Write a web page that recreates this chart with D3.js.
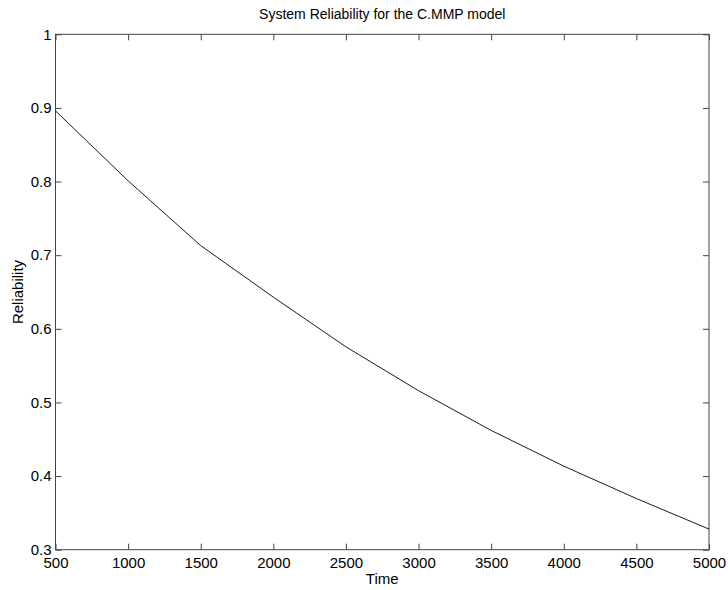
<!DOCTYPE html>
<html><head><meta charset="utf-8">
<script src="https://cdn.jsdelivr.net/npm/d3@7"></script>
<style>body{margin:0;background:#fff}svg{display:block}</style>
</head><body>
<script>
const times = [500,1000,1500,2000,2500,3000,3500,4000,4500,5000];
const reliability = [0.896,0.801,0.713,0.643,0.5755,0.516,0.462,0.4135,0.3695,0.328];
const xTicks = [500,1000,1500,2000,2500,3000,3500,4000,4500,5000];
const yTicks = [0.3,0.4,0.5,0.6,0.7,0.8,0.9,1];

const W=728,H=590;
const m={l:55.5,r:709,t:34.3,b:549.7};
const svg=d3.select("body").append("svg").attr("width",W).attr("height",H)
  .style("font-family","'Liberation Sans', Arial, Helvetica, sans-serif");
const x=d3.scaleLinear().domain([500,5000]).range([m.l,m.r]);
const y=d3.scaleLinear().domain([0.3,1]).range([m.b,m.t]);
const axisColor="#444";
const fmtY=d=>d===1?"1":d3.format(".1f")(d);

function styleAxis(g){g.select(".domain").remove();g.selectAll("line").attr("stroke",axisColor);}
// bottom
svg.append("g").attr("transform",`translate(0,${m.b})`)
  .call(d3.axisBottom(x).tickValues(xTicks).tickSize(-6).tickPadding(8).tickFormat(d3.format("d")))
  .call(styleAxis).call(g=>g.selectAll("text").attr("font-size",15).attr("fill","#000").attr("font-family","'Liberation Sans', Arial, sans-serif"));
// top
svg.append("g").attr("transform",`translate(0,${m.t})`)
  .call(d3.axisTop(x).tickValues(xTicks).tickSize(-6).tickFormat(""))
  .call(styleAxis);
// left
svg.append("g").attr("transform",`translate(${m.l},0)`)
  .call(d3.axisLeft(y).tickValues(yTicks).tickSize(-6).tickPadding(4).tickFormat(fmtY))
  .call(styleAxis).call(g=>g.selectAll("text").attr("font-size",15).attr("fill","#000").attr("font-family","'Liberation Sans', Arial, sans-serif"));
// right
svg.append("g").attr("transform",`translate(${m.r},0)`)
  .call(d3.axisRight(y).tickValues(yTicks).tickSize(-6).tickFormat(""))
  .call(styleAxis);
// frame
svg.append("rect").attr("x",m.l).attr("y",m.t).attr("width",m.r-m.l).attr("height",m.b-m.t)
  .attr("fill","none").attr("stroke",axisColor).attr("stroke-width",1);

const data=times.map((t,i)=>({t,r:reliability[i]}));
svg.append("path").datum(data).attr("fill","none").attr("stroke","#000").attr("stroke-width",0.9)
  .attr("d",d3.line().x(d=>x(d.t)).y(d=>y(d.r)));

svg.append("text").attr("x",(m.l+m.r)/2).attr("y",19).attr("text-anchor","middle")
  .attr("font-size",14).text("System Reliability for the C.MMP model");
svg.append("text").attr("x",(m.l+m.r)/2).attr("y",584).attr("text-anchor","middle")
  .attr("font-size",15).text("Time");
svg.append("text").attr("transform",`translate(23,${(m.t+m.b)/2}) rotate(-90)`).attr("text-anchor","middle")
  .attr("font-size",15).text("Reliability");
</script>
</body></html>
